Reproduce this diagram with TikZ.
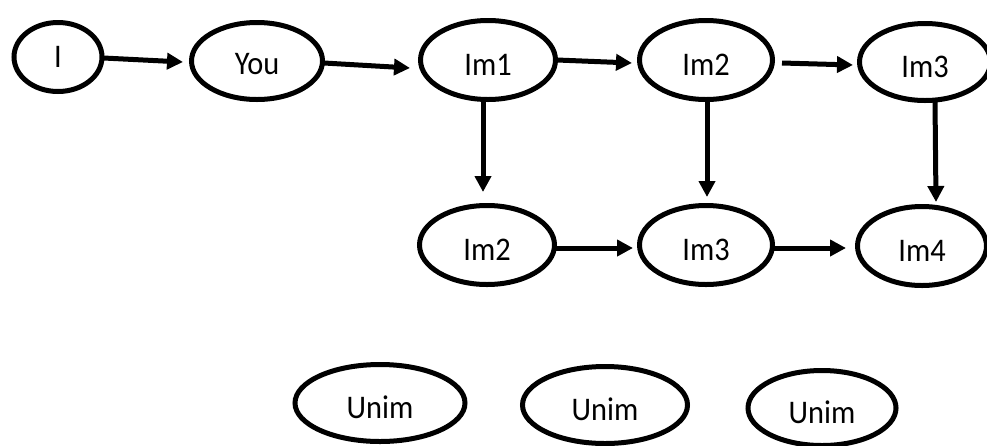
\documentclass[tikz,border=0pt]{standalone}
\usepackage{fontspec}
\setmainfont[FakeStretch=0.92]{Carlito}
\usetikzlibrary{shapes.geometric,arrows.meta,calc}
\begin{document}
\begin{tikzpicture}[x=1pt,y=-1pt,
  oval/.style={ellipse, draw, line width=5pt, inner sep=0pt,
    font=\fontsize{33}{33}\selectfont, text height=30pt, text depth=0pt},
  arr/.style={line width=5pt, -{Triangle[length=16pt,width=16pt]}}]
\useasboundingbox (0,0) rectangle (987,445);
\clip (0,0) rectangle (987,445);
\node[oval, minimum width=88pt, minimum height=69pt, text height=21pt] (I) at (58,57) {I};
\node[oval, minimum width=131pt, minimum height=77pt, text height=27pt] (You) at (257,61) {You};
\node[oval, minimum width=135pt, minimum height=79pt] (Im1) at (488,60) {Im1};
\node[oval, minimum width=133pt, minimum height=79pt] (Im2a) at (706,60) {Im2};
\node[oval, minimum width=131pt, minimum height=77pt] (Im3a) at (925,62) {Im3};
\node[oval, minimum width=135pt, minimum height=79pt] (Im2b) at (487,245) {Im2};
\node[oval, minimum width=133pt, minimum height=79pt] (Im3b) at (706,245) {Im3};
\node[oval, minimum width=129pt, minimum height=79pt] (Im4) at (922,246) {Im4};
\node[oval, minimum width=170pt, minimum height=77pt] (U1) at (380,403) {Unim};
\node[oval, minimum width=165pt, minimum height=77pt] (U2) at (605,405) {Unim};
\node[oval, minimum width=148pt, minimum height=75pt] (U3) at (822,408) {Unim};
\draw[arr] ($(I.east)+(-1,1)$) -- ($(You.west)+(-6,1)$);
\draw[arr] ($(You.east)+(-1,2)$) -- ($(Im1.west)+(-8,8)$);
\draw[arr] ($(Im1.east)+(-1,0)$) -- ($(Im2a.west)+(-5,3)$);
\draw[arr] ($(Im2a.east)+(7,3)$) -- ($(Im3a.west)+(-4,3)$);
\draw[arr] ($(Im1.south)+(-5,-2)$) -- ($(Im2b.north)+(-4,-11)$);
\draw[arr] ($(Im2a.south)+(1,-2)$) -- ($(Im3b.north)+(1,-6)$);
\draw[arr] ($(Im3a.south)+(10,-2)$) -- ($(Im4.north)+(14,-2)$);
\draw[arr] ($(Im2b.east)+(-1,3)$) -- ($(Im3b.west)+(-4,3)$);
\draw[arr] ($(Im3b.east)+(-1,3)$) -- ($(Im4.west)+(-9,2)$);
\end{tikzpicture}
\end{document}
